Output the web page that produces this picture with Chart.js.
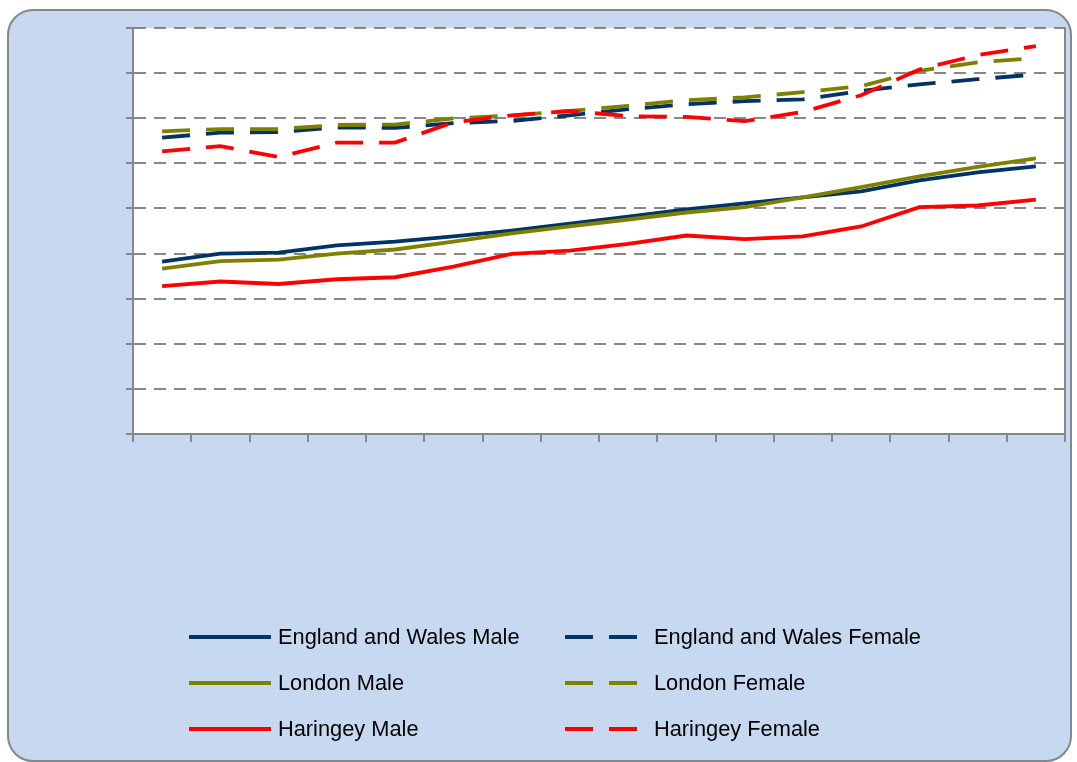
<!DOCTYPE html>
<html>
<head>
<meta charset="utf-8">
<title>Life expectancy</title>
<script src="https://cdn.jsdelivr.net/npm/chart.js@4.4.0/dist/chart.umd.min.js"></script>
<style>
  html, body { margin: 0; padding: 0; background: #fff; }
  body { width: 1077px; height: 762px; position: relative; overflow: hidden; font-family: "Liberation Sans", Arial, sans-serif; }
  #frame { position: absolute; left: 7px; top: 9px; width: 1061px; height: 749px; background: #c6d9f0; border: 2px solid #878787; border-radius: 26px; }
  #wrap { position: absolute; left: 0; top: 0; width: 1077px; height: 762px; }
  #legend { position: absolute; left: 189px; top: 614px; display: grid; grid-template-columns: 376px 376px; grid-auto-rows: 46px; }
  .item { display: flex; align-items: center; font-size: 21.8px; color: #000; }
  .item canvas { margin-right: 7px; }
</style>
</head>
<body>
<div id="frame"></div>
<div id="wrap"><canvas id="lifeChart"></canvas></div>
<div id="legend"></div>

<script>
// periods (3-year bands), labels are not shown on the chart
const periods = ['1991-93', '1992-94', '1993-95', '1994-96', '1995-97', '1996-98', '1997-99', '1998-00',
                 '1999-01', '2000-02', '2001-03', '2002-04', '2003-05', '2004-06', '2005-07', '2006-08'];

// life expectancy at birth (years)
const ewMale        = [73.64, 74.00, 74.04, 74.36, 74.53, 74.76, 75.02, 75.33, 75.64, 75.96, 76.22, 76.49, 76.76, 77.24, 77.60, 77.87];
const ewFemale      = [79.14, 79.36, 79.39, 79.59, 79.57, 79.78, 79.88, 80.13, 80.40, 80.62, 80.76, 80.84, 81.21, 81.50, 81.73, 81.94];
const londonMale    = [73.33, 73.66, 73.73, 74.00, 74.18, 74.53, 74.89, 75.21, 75.51, 75.82, 76.06, 76.49, 76.95, 77.42, 77.84, 78.22];
const londonFemale  = [79.42, 79.52, 79.52, 79.70, 79.72, 79.99, 80.12, 80.32, 80.55, 80.80, 80.92, 81.16, 81.42, 82.10, 82.48, 82.67];
const haringeyMale  = [72.56, 72.76, 72.65, 72.86, 72.95, 73.42, 73.99, 74.13, 74.43, 74.80, 74.64, 74.76, 75.20, 76.06, 76.13, 76.39];
const haringeyFemale= [78.53, 78.76, 78.28, 78.92, 78.92, 79.82, 80.13, 80.32, 80.09, 80.06, 79.87, 80.28, 81.02, 82.16, 82.80, 83.20];

const yMin = 66, yMax = 84, yStep = 2;

const navy = '#003366';
const olive = '#808000';
const red = '#ff0000';
const gridGrey = '#878787';
const femaleDash = [28, 16];

function series(label, data, color, dashed, order) {
    return {
        label: label,
        data: data,
        borderColor: color,
        backgroundColor: color,
        borderWidth: 3.8,
        borderDash: dashed ? femaleDash : [],
        pointRadius: 0,
        tension: 0,
        fill: false,
        order: order
    };
}

// white plot area behind the lines
const plotBackground = {
    id: 'plotBackground',
    beforeDraw(chart) {
        const { ctx, chartArea } = chart;
        ctx.save();
        ctx.fillStyle = '#ffffff';
        ctx.fillRect(chartArea.left, chartArea.top, chartArea.right - chartArea.left, chartArea.bottom - chartArea.top);
        ctx.restore();
    }
};

const ctx = document.getElementById('lifeChart').getContext('2d');
const chart = new Chart(ctx, {
    type: 'line',
    data: {
        labels: periods,
        datasets: [
            series('England and Wales Male', ewMale, navy, false, 5),
            series('England and Wales Female', ewFemale, navy, true, 4),
            series('London Male', londonMale, olive, false, 3),
            series('London Female', londonFemale, olive, true, 2),
            series('Haringey Male', haringeyMale, red, false, 1),
            series('Haringey Female', haringeyFemale, red, true, 0)
        ]
    },
    options: {
        responsive: true,
        maintainAspectRatio: false,
        animation: false,
        layout: {
            autoPadding: false,
            padding: { left: 126, top: 28, right: 12, bottom: 320 }
        },
        plugins: {
            legend: { display: false },
            tooltip: { enabled: false }
        },
        scales: {
            x: {
                offset: true,
                grid: {
                    offset: true,
                    drawOnChartArea: false,
                    drawTicks: true,
                    tickLength: 8,
                    color: gridGrey,
                    lineWidth: 2
                },
                border: { color: gridGrey, width: 2 },
                ticks: { display: false }
            },
            y: {
                min: yMin,
                max: yMax,
                ticks: { display: false, stepSize: yStep },
                grid: {
                    color: gridGrey,
                    lineWidth: 2,
                    tickLength: 7,
                    tickWidth: 2
                },
                border: { color: gridGrey, width: 2, dash: [12, 8] }
            },
            yRight: {
                position: 'right',
                min: yMin,
                max: yMax,
                ticks: { display: false },
                grid: { display: false, drawTicks: false },
                border: { color: gridGrey, width: 2 }
            }
        }
    },
    plugins: [plotBackground]
});

// legend in two columns, built from the datasets
const legendBox = document.getElementById('legend');
chart.data.datasets.forEach(ds => {
    const item = document.createElement('div');
    item.className = 'item';
    const sample = document.createElement('canvas');
    sample.width = 82;
    sample.height = 8;
    const sctx = sample.getContext('2d');
    sctx.strokeStyle = ds.borderColor;
    sctx.lineWidth = 4;
    sctx.setLineDash(ds.borderDash);
    sctx.beginPath();
    sctx.moveTo(0, 4);
    sctx.lineTo(82, 4);
    sctx.stroke();
    const text = document.createElement('span');
    text.textContent = ds.label;
    item.appendChild(sample);
    item.appendChild(text);
    legendBox.appendChild(item);
});
</script>
</body>
</html>
